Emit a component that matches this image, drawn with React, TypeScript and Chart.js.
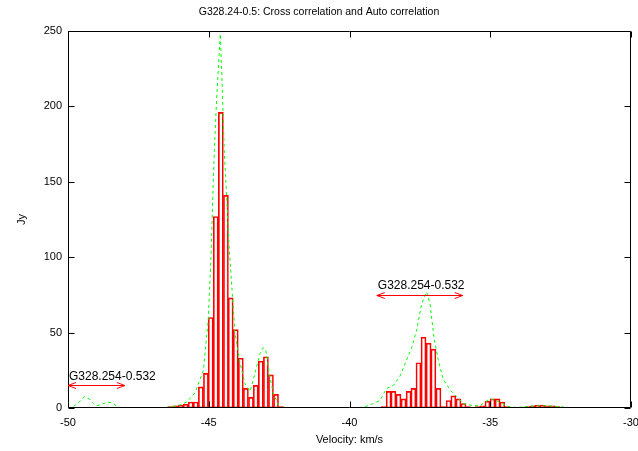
import React, { useEffect, useRef } from "react";
import { Chart, registerables } from "chart.js";

Chart.register(...registerables);

const titleText = "G328.24-0.5: Cross correlation and Auto correlation";
const xLabel = "Velocity: km/s";
const yLabel = "Jy";

const xTicks = [-50, -45, -40, -35, -30];
const yTicks = [0, 50, 100, 150, 200, 250];

// Cross correlation histogram (red boxes)
const crossVel = [
  -46.55, -46.37, -46.19, -46.0, -45.82, -45.64, -45.46, -45.28, -45.1, -44.93,
  -44.75, -44.57, -44.39, -44.22, -44.04, -43.86, -43.68, -43.5, -43.33, -43.15,
  -42.97, -42.79, -42.61, -42.43,
  -38.79, -38.61, -38.44, -38.26, -38.08, -37.9, -37.73, -37.55, -37.37, -37.19,
  -37.02, -36.84, -36.66, -36.48, -36.31, -36.13, -35.95, -35.79,
  -35.45, -35.28, -35.1, -34.92, -34.74, -34.57, -34.39, -34.21,
  -33.86, -33.68, -33.5, -33.33, -33.15, -32.97, -32.79, -32.61, -32.43,
];
const crossJy = [
  0.5, 1, 1.5, 2, 2.5, 4, 4, 14, 23, 60,
  127, 196, 141, 73, 52, 33, 13, 7, 15, 31,
  34, 22, 9, 1,
  1, 11, 11, 9, 6, 11, 13, 30, 47, 43,
  39, 13, 1, 5, 8, 6, 3, 1,
  1, 1.5, 4.5, 6, 6, 4, 1, 0.5,
  0.5, 1, 1.5, 2, 2, 1.5, 1.5, 1, 0.5,
];

// Auto correlation (green dashed line)
const autoVel = [
  -50.0, -49.8, -49.6, -49.42, -49.25, -49.1, -48.98, -48.8, -48.6, -48.4,
  -48.2, -48.0, -47.0, -46.4, -46.02, -45.78, -45.49, -45.19, -45.02, -44.92,
  -44.86, -44.8, -44.72, -44.59, -44.52, -44.45, -44.36, -44.27, -44.15, -44.07,
  -43.89, -43.71, -43.53, -43.36, -43.18, -43.06, -42.97, -42.85, -42.71, -42.53,
  -42.35, -40.0, -39.5, -39.27, -38.92, -38.68, -38.44, -38.21, -37.97, -37.79,
  -37.61, -37.44, -37.26, -37.14, -37.0, -36.85, -36.67, -36.43, -36.19, -35.96,
  -35.6, -35.36, -35.19, -34.98, -34.8, -34.59, -34.36, -34.05, -33.71, -33.35,
  -33.0, -32.6, -32.2, -30.0,
];
const autoJy = [
  0, 1, 4, 7.5, 6, 3, 1.5, 2.5, 4, 3,
  0.5, 0, 0, 0.5, 2, 4, 10, 25, 58, 100,
  138, 171, 205, 248, 213, 171, 138, 105, 72, 50,
  30, 16, 11, 23, 36, 40, 38, 23, 10, 2,
  0, 0, 0.5, 2, 5, 13, 15, 21, 32, 40,
  52, 69, 77, 69, 47, 32, 19, 12, 7.5, 3,
  1.5, 1.5, 4, 6, 5, 3, 1, 0.3, 1, 1.5,
  1.5, 1, 0.3, 0,
];

// Source-name annotations with double arrows
const noteText = ["G328.254-0.532", "G328.254-0.532"];
const noteFrom = [-50.0, -39.03];
const noteTo = [-47.98, -35.98];
const noteArrowJy = [15, 75];
const noteTextJy = [20.5, 81];

const FONT = "'Liberation Sans', Arial, Helvetica, sans-serif";

const framePlugin = {
  id: "gnuplotFrame",
  afterDraw(chart: any) {
    const { ctx, chartArea, scales } = chart;
    const xs = scales.x;
    const ys = scales.y;
    const L = Math.round(chartArea.left) + 0.5;
    const R = Math.round(chartArea.right) - 0.5;
    const T = Math.round(chartArea.top) + 0.5;
    const B = Math.round(chartArea.bottom) - 0.5;
    ctx.save();
    ctx.strokeStyle = "#000";
    ctx.lineWidth = 1;
    ctx.beginPath();
    ctx.rect(L, T, R - L, B - T);
    ctx.stroke();
    const tl = 6;
    ctx.beginPath();
    xTicks.forEach((v) => {
      const px = Math.round(xs.getPixelForValue(v)) + 0.5;
      ctx.moveTo(px, B);
      ctx.lineTo(px, B - tl);
      ctx.moveTo(px, T);
      ctx.lineTo(px, T + tl);
    });
    yTicks.forEach((v) => {
      const py = Math.round(ys.getPixelForValue(v)) + 0.5;
      ctx.moveTo(L, py);
      ctx.lineTo(L + tl, py);
      ctx.moveTo(R, py);
      ctx.lineTo(R - tl, py);
    });
    ctx.stroke();

    // texts
    ctx.fillStyle = "#000";
    ctx.font = `10.5px ${FONT}`;
    ctx.textAlign = "center";
    ctx.textBaseline = "middle";
    ctx.fillText(titleText, 319, 12);
    ctx.font = `11px ${FONT}`;
    ctx.fillText(xLabel, (chartArea.left + chartArea.right) / 2, 440);
    ctx.save();
    ctx.translate(22, (chartArea.top + chartArea.bottom) / 2);
    ctx.rotate(-Math.PI / 2);
    ctx.fillText(yLabel, 0, 0);
    ctx.restore();

    // annotations
    noteText.forEach((txt, i) => {
      const x1 = xs.getPixelForValue(noteFrom[i]);
      const x2 = xs.getPixelForValue(noteTo[i]);
      const ya = Math.round(ys.getPixelForValue(noteArrowJy[i])) + 0.5;
      const yt = ys.getPixelForValue(noteTextJy[i]);
      ctx.fillStyle = "#000";
      ctx.font = `12px ${FONT}`;
      ctx.textAlign = "left";
      ctx.textBaseline = "middle";
      ctx.fillText(txt, x1 + 1, yt);
      ctx.strokeStyle = "#ff0000";
      ctx.lineWidth = 1;
      ctx.beginPath();
      ctx.moveTo(x1, ya);
      ctx.lineTo(x2, ya);
      const ah = 8;
      const aw = 3;
      ctx.moveTo(x1 + ah, ya - aw);
      ctx.lineTo(x1, ya);
      ctx.lineTo(x1 + ah, ya + aw);
      ctx.moveTo(x2 - ah, ya - aw);
      ctx.lineTo(x2, ya);
      ctx.lineTo(x2 - ah, ya + aw);
      ctx.stroke();
    });
    ctx.restore();
  },
};

export default function App() {
  const ref = useRef<HTMLCanvasElement | null>(null);
  useEffect(() => {
    if (!ref.current) return;
    const chart = new Chart(ref.current, {
      data: {
        datasets: [
          {
            type: "line",
            label: "Auto correlation",
            data: autoVel.map((v, i) => ({ x: v, y: autoJy[i] })),
            borderColor: "#00ff00",
            borderWidth: 1,
            borderDash: [3, 3],
            pointRadius: 0,
            tension: 0,
            fill: false,
            order: 0,
          },
          {
            type: "bar",
            label: "Cross correlation",
            data: crossVel.map((v, i) => ({ x: v, y: crossJy[i] })),
            borderColor: "#ff0000",
            borderWidth: 1,
            backgroundColor: "rgba(255,255,255,0)",
            barThickness: 5,
            borderSkipped: false,
            order: 1,
          },
        ],
      } as any,
      options: {
        responsive: false,
        animation: false,
        layout: { padding: { left: 0, top: 31, right: 7, bottom: 0 } },
        plugins: {
          legend: { display: false },
          tooltip: { enabled: false },
          title: { display: false },
        },
        scales: {
          x: {
            type: "linear",
            min: -50,
            max: -30,
            offset: false,
            grid: { display: false, drawTicks: false },
            border: { display: false },
            afterBuildTicks: (s: any) => {
              s.ticks = xTicks.map((v) => ({ value: v }));
            },
            afterFit: (s: any) => {
              s.height = 43;
              s.paddingLeft = 0;
              s.paddingRight = 0;
            },
            ticks: {
              autoSkip: false,
              maxRotation: 0,
              padding: 8,
              color: "#000",
              font: { family: FONT, size: 11 },
              callback: (v: any) => String(v),
            },
          },
          y: {
            type: "linear",
            min: 0,
            max: 250,
            grid: { display: false, drawTicks: false },
            border: { display: false },
            afterBuildTicks: (s: any) => {
              s.ticks = yTicks.map((v) => ({ value: v }));
            },
            afterFit: (s: any) => {
              s.width = 68;
              s.paddingTop = 0;
              s.paddingBottom = 0;
            },
            ticks: {
              padding: 6,
              color: "#000",
              font: { family: FONT, size: 11 },
              callback: (v: any) => String(v),
            },
          },
        },
      } as any,
      plugins: [framePlugin],
    });
    return () => chart.destroy();
  }, []);
  return (
    <div style={{ position: "absolute", left: 0, top: 0, width: 638, height: 451, background: "#fff" }}>
      <canvas ref={ref} width={638} height={451} />
    </div>
  );
}
